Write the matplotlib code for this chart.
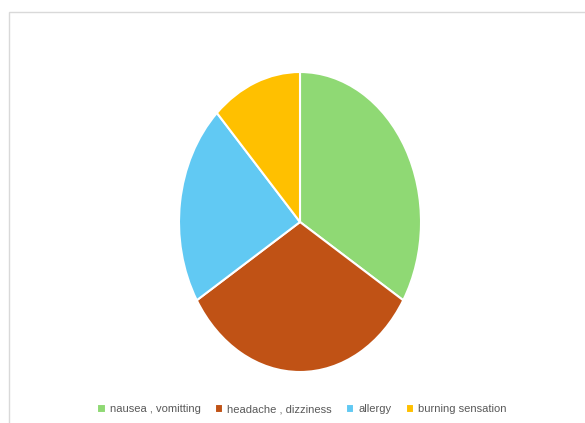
import matplotlib.pyplot as plt
from matplotlib.patches import Rectangle

labels = ["nausea , vomitting", "headache , dizziness", "allergy", "burning sensation"]
counts = [28, 27, 18, 10]
colors = ["#8FD974", "#C05215", "#61C9F3", "#FFC000"]

W, H = 585, 423
fig = plt.figure(figsize=(W / 100, H / 100), dpi=100)

# light gray chart-area border (top and left visible)
fig.patches.append(Rectangle((9 / W, -0.01), 1.0, 1 - 12 / H + 0.01,
                             transform=fig.transFigure, fill=False,
                             edgecolor="#D9D9D9", linewidth=1))

# pie is stretched vertically, so place axes on the pixel box and let aspect float
ax = fig.add_axes([179 / W, (H - 372) / H, 242 / W, 300 / H])
wedges, _ = ax.pie(counts, colors=colors, startangle=90, counterclock=False,
                   wedgeprops=dict(edgecolor="white", linewidth=1.5))
ax.set_aspect("auto")
ax.set_xlim(-1, 1)
ax.set_ylim(-1, 1)
ax.axis("off")

fig.legend(wedges, labels, loc="center", bbox_to_anchor=(302 / W, 1 - 409 / H),
           ncol=4, frameon=False, handlelength=0.75, handleheight=0.9,
           handletextpad=0.35, columnspacing=1.3, labelcolor="#595959",
           prop={"family": "Liberation Sans", "size": 8})

fig.savefig("out.png", dpi=100)
